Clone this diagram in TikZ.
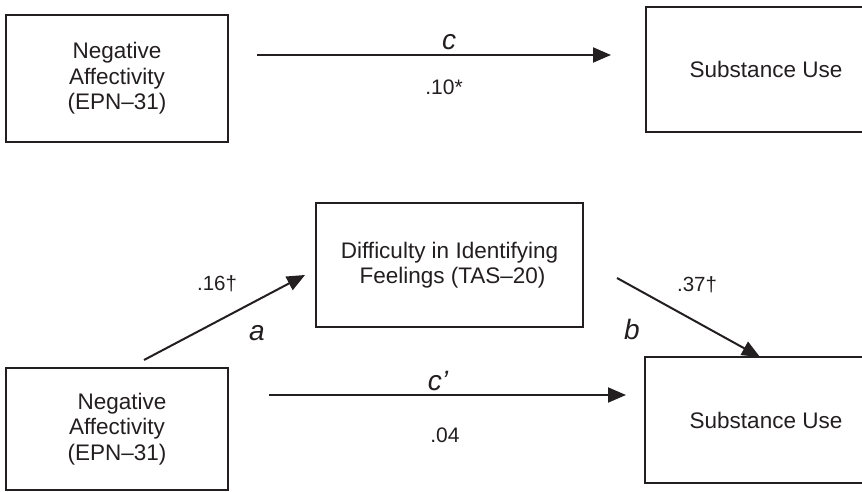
\documentclass[tikz,border=0pt]{standalone}
\usepackage{fontspec}
\setmainfont{Liberation Sans}
\usetikzlibrary{arrows.meta}
\definecolor{ink}{RGB}{35,31,32}
\begin{document}
\begin{tikzpicture}[x=1pt,y=-1pt,
  box/.style={draw=ink, line width=2pt, inner sep=0pt, align=center, text=ink,
    font=\fontsize{22.5}{25.5}\selectfont},
  path/.style={draw=ink, line width=2pt, -{Triangle[length=18pt,width=15pt]}},
  coef/.style={text=ink, inner sep=0pt, font=\fontsize{21}{24}\selectfont},
  small/.style={text=ink, inner sep=0pt, font=\fontsize{20.5}{23}\selectfont},
  lbl/.style={text=ink, inner sep=0pt, font=\fontsize{28}{30}\selectfont\itshape}]
\useasboundingbox (0,0) rectangle (862,492);
\fill[white] (0,0) rectangle (862,492);
% boxes
\node[box, minimum width=222pt, minimum height=127pt] (tl) at (117,78.5)
  {Negative\\Affectivity\\(EPN–31)};
\node[box, minimum width=240pt, minimum height=125pt] (tr) at (766,69.5)
  {Substance Use};
\node[box, minimum width=267pt, minimum height=124pt] (mid) at (449.5,265)
  {Difficulty in Identifying\\\hspace*{6pt}Feelings (TAS–20)};
\node[box, minimum width=222pt, minimum height=122pt] (bl) at (117,429)
  {\hspace*{10pt}Negative\\Affectivity\\(EPN–31)};
\node[box, minimum width=242pt, minimum height=126pt] (br) at (766,420)
  {Substance Use};
% connector end points
\coordinate (c1) at (257,55);
\coordinate (c2) at (611,55);
\coordinate (a1) at (144,360);
\coordinate (a2) at (305,275);
\coordinate (b1) at (617,278);
\coordinate (b2) at (760,357);
\coordinate (d1) at (269,395);
\coordinate (d2) at (626,395);
% connectors
\draw[path] (c1) -- (c2);
\draw[path] (a1) -- (a2);
\draw[path] (b1) -- (b2);
\draw[path] (d1) -- (d2);
% labels
\node[lbl] (lc) at (449,42) {c};
\node[coef] (vc) at (444,87) {.10*};
\node[small] (va) at (217,284) {.16†};
\node[lbl] (la) at (257,333) {a};
\node[small] (vb) at (697,285) {.37†};
\node[lbl] (lb) at (632,329) {b};
\node[lbl] (ld) at (438,381) {c’};
\node[coef] (vd) at (445,435) {.04};
\end{tikzpicture}
\end{document}
